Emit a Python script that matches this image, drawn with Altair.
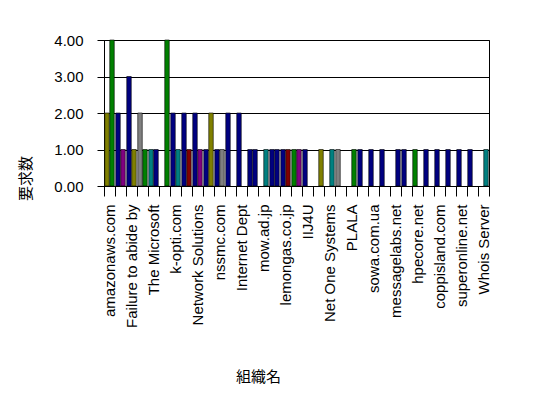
import json
import altair as alt
import pandas as pd

# Labels shown on the axis (every other organisation)
labels = ["amazonaws.com", "Failure to abide by", "The Microsoft", "k-opti.com",
          "Network Solutions", "nssmc.com", "Internet Dept", "mow.ad.jp",
          "lemongas.co.jp", "IIJ4U", "Net One Systems", "PLALA", "sowa.com.ua",
          "messagelabs.net", "hpecore.net", "coppisland.com", "superonline.net",
          "Whois Server"]
n_cats = 35

series_names = ["S1", "S2", "S3", "S4", "S5", "S6", "S7"]
series_colors = ["#000080", "#800080", "#808000", "#808080", "#008000", "#008080", "#800000"]

# front bar (slot 0) per category
front_series = ["S3", "S1", "S1", "S4", "S6", None, "S1", "S1", "S1", "S1", "S1", "S1",
                "S1", "S1", None, "S1", "S1", "S5", "S1", None, None, "S4", None, "S1",
                "S1", "S1", None, "S1", "S5", "S1", "S1", "S1", "S1", "S1", None]
front_values = [2, 2, 3, 2, 1, 0, 2, 2, 2, 1, 1, 2,
                2, 1, 0, 1, 1, 1, 1, 0, 0, 1, 0, 1,
                1, 1, 0, 1, 1, 1, 1, 1, 1, 1, 0]
# back bar (slot 1) per category
back_series = ["S5", "S2", "S3", "S5", "S1", "S5", "S6", "S7", "S2", "S3", "S4", None,
               None, "S1", "S6", "S1", "S7", "S2", None, "S3", "S6", None, "S5", None,
               None, None, "S1", None, None, None, None, None, None, None, "S6"]
back_values = [4, 1, 1, 1, 1, 4, 1, 1, 1, 2, 1, 0,
               0, 1, 1, 1, 1, 1, 0, 1, 1, 0, 1, 0,
               0, 0, 1, 0, 0, 0, 0, 0, 0, 0, 1]

rows = []
for i in range(n_cats):
    if front_series[i] is not None:
        rows.append({"idx": i, "slot": 0, "series": front_series[i], "value": front_values[i]})
    if back_series[i] is not None:
        rows.append({"idx": i, "slot": 1, "series": back_series[i], "value": back_values[i]})
df = pd.DataFrame(rows)

FONT = "Liberation Sans, Noto Sans CJK JP"
label_expr = f"datum.value % 2 == 0 ? {json.dumps(labels, ensure_ascii=False)}[datum.value / 2] : ''"

chart = alt.Chart(df).mark_bar(stroke="black", strokeWidth=0.6).encode(
    x=alt.X("idx:O",
            scale=alt.Scale(domain=list(range(n_cats)), paddingInner=0, paddingOuter=0),
            axis=alt.Axis(title="組織名", labelExpr=label_expr, labelAngle=-90,
                          labelOverlap=False, tickBand="extent", tickSize=10,
                          labelPadding=8, labelFontSize=15, labelFont=FONT,
                          labelColor="black", domainColor="black", tickColor="black",
                          titleFont=FONT, titleFontSize=15, titleFontWeight="normal",
                          titleColor="black", titleX=154, titleY=190,
                          titleBaseline="middle", titleAlign="center")),
    xOffset=alt.XOffset("slot:O", scale=alt.Scale(domain=[0, 1], paddingInner=0.1, paddingOuter=0.15)),
    y=alt.Y("value:Q",
            scale=alt.Scale(domain=[0, 4], nice=False),
            axis=alt.Axis(title="要求数", values=[0, 1, 2, 3, 4], format=".2f",
                          grid=True, gridColor="black", gridOpacity=1,
                          tickSize=7, labelPadding=14, labelFontSize=15,
                          labelFont=FONT, labelColor="black",
                          domainColor="black", tickColor="black",
                          titleFont=FONT, titleFontSize=15, titleFontWeight="normal",
                          titleColor="black", titleX=-79, titleY=138,
                          titleAngle=-90, titleAlign="center", titleBaseline="middle")),
    color=alt.Color("series:N", scale=alt.Scale(domain=series_names, range=series_colors),
                    legend=None),
).properties(
    width=385,
    height=146,
    autosize=alt.AutoSizeParams(type="none"),
    padding={"left": 96, "top": 32, "right": 50, "bottom": 200},
    background="white",
).configure_view(stroke="black", strokeWidth=1)

chart.save("out.html", embed_options={"renderer": "svg", "actions": False})
